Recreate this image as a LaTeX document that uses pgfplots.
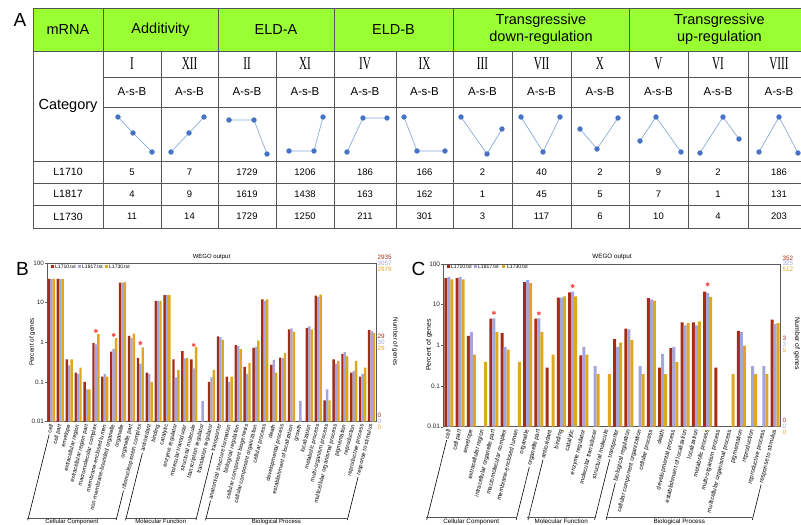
\documentclass[border=0pt]{standalone}
\usepackage{fontspec}
\setmainfont{Liberation Sans}
\newfontfamily\romanfont[FakeStretch=0.62]{Liberation Serif}
\usepackage{pgfplots}
\pgfplotsset{compat=1.18}

\definecolor{hdrgreen}{RGB}{153,255,51}
\definecolor{tline}{RGB}{85,85,85}
\definecolor{redc}{RGB}{166,44,20}
\definecolor{bluec}{RGB}{165,165,222}
\definecolor{goldc}{RGB}{222,168,30}
\definecolor{ptline}{RGB}{140,172,222}
\definecolor{ptmark}{RGB}{68,114,196}
\definecolor{starc}{RGB}{255,80,80}
\definecolor{axc}{RGB}{90,90,90}

\newcommand{\lrB}[1]{\hbox to 98.45pt{\leaders\hrule height 1.9pt depth -1.3pt\hfill\hspace{1.5pt}#1}}
\newcommand{\lrC}[1]{\hbox to 92.8pt{\leaders\hrule height 1.9pt depth -1.3pt\hfill\hspace{1.5pt}#1}}

\begin{document}
\begin{tikzpicture}
\useasboundingbox (0,0) rectangle (801pt,525pt);

% ---------------- Panel A : table ----------------
\begin{scope}[x=1pt,y=1pt]
\clip (0,0) rectangle (801,525);
\fill[hdrgreen] (33,474) rectangle (810,517);
\begin{scope}[draw=tline, line width=0.8pt]
\draw (33,517) -- (810,517);
\draw (33,474) -- (810,474);
\draw (103,448) -- (810,448);
\draw (103,418) -- (810,418);
\draw (33,364) -- (810,364);
\draw (33,342) -- (810,342);
\draw (33,320) -- (810,320);
\draw (33,297) -- (810,297);
\foreach \x in {33,103,218,334,453,629,810} \draw (\x,297) -- (\x,517);
\foreach \x in {161,276,396,512,571,688,748} \draw (\x,297) -- (\x,474);
\end{scope}
\begin{scope}[font=\fontsize{14.5}{17}\selectfont]
\node at (68,495.5) {mRNA};
\node at (160.5,495.5) {Additivity};
\node at (276,495.5) {ELD-A};
\node at (393.5,495.5) {ELD-B};
\node[align=center] at (541,495.5) {Transgressive\\down-regulation};
\node[align=center] at (719.5,495.5) {Transgressive\\up-regulation};
\node at (68,419) {Category};
\end{scope}
\begin{scope}[font=\romanfont\fontsize{18}{18}\selectfont]
\node at (132,461) {I};
\node at (189.5,461) {XII};
\node at (247,461) {II};
\node at (305,461) {XI};
\node at (365,461) {IV};
\node at (424.5,461) {IX};
\node at (482.5,461) {III};
\node at (541.5,461) {VII};
\node at (600,461) {X};
\node at (658.5,461) {V};
\node at (718,461) {VI};
\node at (779,461) {VIII};
\end{scope}
\foreach \x in {132,189.5,247,305,365,424.5,482.5,541.5,600,658.5,718,779}
  \node[font=\fontsize{11.5}{12}\selectfont] at (\x,433) {A-s-B};
\begin{scope}[font=\fontsize{10.5}{11}\selectfont]
\node at (68,353) {L1710};
\node at (68,331) {L1817};
\node at (68,308.5) {L1730};
\end{scope}
\begin{scope}[font=\fontsize{9.5}{10}\selectfont]
\foreach \x/\a/\b/\c in {132/5/4/11, 189.5/7/9/14, 247/1729/1619/1729, 305/1206/1438/1250,
  365/186/163/211, 424.5/166/162/301, 482.5/2/1/3, 541.5/40/45/117, 600/2/5/6,
  658.5/9/7/10, 718/2/1/4, 779/186/131/203}{
  \node at (\x,353) {\a};
  \node at (\x,331) {\b};
  \node at (\x,308.5) {\c};
}
\end{scope}
\end{scope}

% pattern mini-plots
\begin{axis}[at={(33pt,364pt)}, anchor=south west, scale only axis,
  width=777pt, height=54pt, hide axis, xmin=33, xmax=810, ymin=107, ymax=161,
  y dir=reverse, clip=false]
\addplot[color=ptline, line width=0.7pt, mark=*, mark size=2.3pt, mark options={fill=ptmark, draw=ptmark}] coordinates {(118,117) (133,133) (152,152)};
\addplot[color=ptline, line width=0.7pt, mark=*, mark size=2.3pt, mark options={fill=ptmark, draw=ptmark}] coordinates {(171,152) (189,133) (204,117)};
\addplot[color=ptline, line width=0.7pt, mark=*, mark size=2.3pt, mark options={fill=ptmark, draw=ptmark}] coordinates {(229,120) (254,120) (267,154)};
\addplot[color=ptline, line width=0.7pt, mark=*, mark size=2.3pt, mark options={fill=ptmark, draw=ptmark}] coordinates {(289,151) (314,151) (323,117)};
\addplot[color=ptline, line width=0.7pt, mark=*, mark size=2.3pt, mark options={fill=ptmark, draw=ptmark}] coordinates {(347,152) (363,118) (387,118)};
\addplot[color=ptline, line width=0.7pt, mark=*, mark size=2.3pt, mark options={fill=ptmark, draw=ptmark}] coordinates {(404,117) (417,151) (445,151)};
\addplot[color=ptline, line width=0.7pt, mark=*, mark size=2.3pt, mark options={fill=ptmark, draw=ptmark}] coordinates {(461,117) (487,154) (502,129)};
\addplot[color=ptline, line width=0.7pt, mark=*, mark size=2.3pt, mark options={fill=ptmark, draw=ptmark}] coordinates {(521,117) (543,152) (560,117)};
\addplot[color=ptline, line width=0.7pt, mark=*, mark size=2.3pt, mark options={fill=ptmark, draw=ptmark}] coordinates {(580,129) (597,149) (618,118)};
\addplot[color=ptline, line width=0.7pt, mark=*, mark size=2.3pt, mark options={fill=ptmark, draw=ptmark}] coordinates {(640,141) (656,117) (681,152)};
\addplot[color=ptline, line width=0.7pt, mark=*, mark size=2.3pt, mark options={fill=ptmark, draw=ptmark}] coordinates {(700,153) (723,117) (739,139)};
\addplot[color=ptline, line width=0.7pt, mark=*, mark size=2.3pt, mark options={fill=ptmark, draw=ptmark}] coordinates {(759,152) (779,117) (798,153)};
\end{axis}

% ---------------- Panel B ----------------
\begin{axis}[
  at={(47pt,103.5pt)}, anchor=south west, scale only axis, width=329pt, height=158.5pt,
  clip=false,
  ymode=log, log origin=infty, ymin=0.01, ymax=100,
  ytick={0.01,0.1,1,10,100}, yticklabels={0.01,0.1,1,10,100},
  yminorticks=false, ytick pos=left, tick align=outside, major tick length=2pt,
  xtick style={draw=none},
  axis line style={draw=axc, line width=0.5pt},
  ytick style={draw=axc, line width=0.4pt},
  yticklabel style={font=\fontsize{6.3}{6.3}\selectfont, inner sep=1pt, text=black!85},
  xmin=0, xmax=37,
  xtick={0.5,1.5,...,36.5},
  xticklabels={\lrB{cell},cell part,envelope,extracellular region,extracellular region part,macromolecular complex,membrane-enclosed lumen,non-membrane-bounded organelle,organelle,organelle part,\lrB{ribonucleoprotein complex},\lrB{antioxidant},binding,catalytic,enzyme regulator,molecular transducer,structural molecule,transcription regulator,translation regulator,\lrB{transporter},\lrB{anatomical structure formation},biological regulation,cellular component biogenesis,cellular component organization,cellular process,death,developmental process,establishment of localization,growth,localization,metabolic process,multi-organism process,multicellular organismal process,pigmentation,reproduction,reproductive process,\lrB{response to stimulus}},
  xticklabel style={rotate=76, anchor=east, inner sep=1pt, font=\fontsize{5.7}{5.7}\selectfont},
]
\addplot[ybar, bar width=0.27, bar shift=-0.27, fill=redc, draw=none] coordinates {(0.5,40) (1.5,40) (2.5,0.37) (3.5,0.17) (4.5,0.10) (5.5,0.95) (6.5,0.135) (7.5,0.58) (8.5,32) (9.5,1.45) (10.5,0.40) (11.5,0.17) (12.5,11) (13.5,15.5) (14.5,0.37) (15.5,0.60) (16.5,0.37) (18.5,0.10) (19.5,1.4) (20.5,0.135) (21.5,0.85) (22.5,0.24) (23.5,0.72) (24.5,12) (25.5,0.27) (26.5,0.41) (27.5,2.1) (29.5,2.3) (30.5,15) (31.5,0.034) (32.5,0.37) (33.5,0.51) (34.5,0.17) (35.5,0.135) (36.5,2.05)};
\addplot[ybar, bar width=0.27, bar shift=0, fill=bluec, draw=none] coordinates {(0.5,40) (1.5,40) (2.5,0.26) (3.5,0.16) (4.5,0.065) (5.5,0.88) (6.5,0.16) (7.5,0.68) (8.5,32) (9.5,1.28) (10.5,0.29) (11.5,0.16) (12.5,11) (13.5,15.5) (14.5,0.13) (15.5,0.39) (16.5,0.22) (17.5,0.033) (18.5,0.13) (19.5,1.35) (20.5,0.10) (21.5,0.80) (22.5,0.16) (23.5,0.76) (24.5,11) (25.5,0.36) (26.5,0.40) (27.5,2.25) (28.5,0.033) (29.5,2.5) (30.5,14) (31.5,0.065) (32.5,0.29) (33.5,0.56) (34.5,0.19) (35.5,0.16) (36.5,1.9)};
\addplot[ybar, bar width=0.27, bar shift=0.27, fill=goldc, draw=none] coordinates {(0.5,40) (1.5,40) (2.5,0.37) (3.5,0.23) (4.5,0.065) (5.5,1.6) (6.5,0.135) (7.5,1.28) (8.5,33) (9.5,1.65) (10.5,0.74) (11.5,0.10) (12.5,11) (13.5,15.5) (14.5,0.20) (15.5,0.40) (16.5,0.77) (18.5,0.20) (19.5,1.15) (20.5,0.135) (21.5,0.67) (22.5,0.30) (23.5,1.1) (24.5,12) (25.5,0.17) (26.5,0.54) (27.5,1.85) (29.5,2.1) (30.5,16) (31.5,0.034) (32.5,0.34) (33.5,0.44) (34.5,0.34) (35.5,0.23) (36.5,1.7)};
\addplot[only marks, mark=asterisk, mark size=2pt, color=starc, line width=0.9pt] coordinates {(5.5,1.93) (7.5,1.53) (10.5,0.944) (16.5,0.855)};
\draw[tline, line width=0.6pt] ([shift={(-24.06pt,-96.5pt)}]axis cs:0.5,0.01) -- ([shift={(-24.06pt,-96.5pt)}]axis cs:10.5,0.01);
\draw[tline, line width=0.6pt] ([shift={(-24.06pt,-96.5pt)}]axis cs:11.5,0.01) -- ([shift={(-24.06pt,-96.5pt)}]axis cs:19.5,0.01);
\draw[tline, line width=0.6pt] ([shift={(-24.06pt,-96.5pt)}]axis cs:20.5,0.01) -- ([shift={(-24.06pt,-96.5pt)}]axis cs:36.5,0.01);
\node[anchor=north, inner sep=1pt, font=\fontsize{6}{6}\selectfont] at ([shift={(-24.06pt,-96.5pt)}]axis cs:5.5,0.01) {Cellular Component};
\node[anchor=north, inner sep=1pt, font=\fontsize{6}{6}\selectfont] at ([shift={(-24.06pt,-96.5pt)}]axis cs:15.5,0.01) {Molecular Function};
\node[anchor=north, inner sep=1pt, font=\fontsize{6}{6}\selectfont] at ([shift={(-24.06pt,-96.5pt)}]axis cs:28.5,0.01) {Biological Process};
\end{axis}

% ---------------- Panel C ----------------
\begin{axis}[
  at={(443.3pt,98.3pt)}, anchor=south west, scale only axis, width=337.4pt, height=162.7pt,
  clip=false,
  ymode=log, log origin=infty, ymin=0.01, ymax=100,
  ytick={0.01,0.1,1,10,100}, yticklabels={0.01,0.1,1,10,100},
  yminorticks=false, ytick pos=left, tick align=outside, major tick length=2pt,
  xtick style={draw=none},
  axis line style={draw=axc, line width=0.5pt},
  ytick style={draw=axc, line width=0.4pt},
  yticklabel style={font=\fontsize{6.5}{6.5}\selectfont, inner sep=1pt, text=black!85},
  xmin=0, xmax=30,
  xtick={0.5,1.5,...,29.5},
  xticklabels={\lrC{cell},cell part,envelope,extracellular region,intracellular organelle part,macromolecular complex,membrane-enclosed lumen,organelle,\lrC{organelle part},\lrC{antioxidant},binding,catalytic,enzyme regulator,molecular transducer,structural molecule,\lrC{transporter},\lrC{biological regulation},cellular component organization,cellular process,death,developmental process,establishment of localization,localization,metabolic process,multi-organism process,multicellular organismal process,pigmentation,reproduction,reproductive process,\lrC{response to stimulus}},
  xticklabel style={rotate=76, anchor=east, inner sep=1pt, font=\fontsize{6}{6}\selectfont},
]
\addplot[ybar, bar width=0.27, bar shift=-0.27, fill=redc, draw=none] coordinates {(0.5,45) (1.5,45) (2.5,1.70) (4.5,4.55) (5.5,1.99) (7.5,36) (8.5,4.55) (9.5,0.284) (10.5,15) (11.5,20) (12.5,0.57) (15.5,1.42) (16.5,2.56) (18.5,14.5) (19.5,0.284) (20.5,0.85) (21.5,3.69) (22.5,3.69) (23.5,21) (24.5,0.284) (26.5,2.27) (29.5,4.26)};
\addplot[ybar, bar width=0.27, bar shift=0, fill=bluec, draw=none] coordinates {(0.5,48) (1.5,48) (2.5,2.15) (4.5,4.62) (5.5,0.92) (7.5,40) (8.5,4.62) (10.5,15) (11.5,21) (12.5,0.92) (13.5,0.31) (15.5,0.92) (16.5,2.46) (17.5,0.31) (18.5,13.5) (19.5,0.62) (20.5,0.92) (21.5,3.08) (22.5,3.08) (23.5,19.5) (26.5,2.15) (27.5,0.31) (28.5,0.31) (29.5,3.38)};
\addplot[ybar, bar width=0.27, bar shift=0.27, fill=goldc, draw=none] coordinates {(0.5,42) (1.5,42) (2.5,0.59) (3.5,0.39) (4.5,2.15) (5.5,0.78) (6.5,0.39) (7.5,34) (8.5,2.15) (9.5,0.59) (10.5,16) (11.5,16) (12.5,0.59) (13.5,0.195) (14.5,0.195) (15.5,1.17) (16.5,1.37) (17.5,0.195) (18.5,12.5) (19.5,0.195) (20.5,0.39) (21.5,3.52) (22.5,3.91) (23.5,15.5) (25.5,0.195) (26.5,0.98) (27.5,0.195) (28.5,0.195) (29.5,3.52)};
\addplot[only marks, mark=asterisk, mark size=2pt, color=starc, line width=0.9pt] coordinates {(4.5,6.3) (8.5,6.1) (11.5,28.6) (23.5,31.5)};
\draw[tline, line width=0.6pt] ([shift={(-22.69pt,-91pt)}]axis cs:0.5,0.01) -- ([shift={(-22.69pt,-91pt)}]axis cs:8.5,0.01);
\draw[tline, line width=0.6pt] ([shift={(-22.69pt,-91pt)}]axis cs:9.5,0.01) -- ([shift={(-22.69pt,-91pt)}]axis cs:15.5,0.01);
\draw[tline, line width=0.6pt] ([shift={(-22.69pt,-91pt)}]axis cs:16.5,0.01) -- ([shift={(-22.69pt,-91pt)}]axis cs:29.5,0.01);
\node[anchor=north, inner sep=1pt, font=\fontsize{6.3}{6.3}\selectfont] at ([shift={(-22.69pt,-91pt)}]axis cs:4.5,0.01) {Cellular Component};
\node[anchor=north, inner sep=1pt, font=\fontsize{6.3}{6.3}\selectfont] at ([shift={(-22.69pt,-91pt)}]axis cs:12.5,0.01) {Molecular Function};
\node[anchor=north, inner sep=1pt, font=\fontsize{6.3}{6.3}\selectfont] at ([shift={(-22.69pt,-91pt)}]axis cs:23,0.01) {Biological Process};
\end{axis}

% ---------------- annotations ----------------
\begin{scope}[x=1pt,y=1pt]
\node[font=\fontsize{19}{19}\selectfont] at (20,505) {A};
\node[font=\fontsize{19}{19}\selectfont] at (22.5,256.5) {B};
\node[font=\fontsize{19}{19}\selectfont] at (418.5,256.5) {C};
\node[font=\fontsize{6}{6}\selectfont] at (211.5,268) {WEGO output};
\node[font=\fontsize{6.3}{6.3}\selectfont] at (612,268) {WEGO output};
\begin{scope}[font=\fontsize{5}{5}\selectfont]
\fill[redc] (50.5,256.5) rectangle (53.5,259.5); \node[anchor=west, inner sep=0] at (55,258) {L1710.txt};
\fill[bluec] (77.5,256.5) rectangle (80.5,259.5); \node[anchor=west, inner sep=0] at (82,258) {L1817.txt};
\fill[goldc] (104.5,256.5) rectangle (107.5,259.5); \node[anchor=west, inner sep=0] at (109,258) {L1730.txt};
\fill[redc] (446.5,256.5) rectangle (449.5,259.5); \node[anchor=west, inner sep=0] at (451,258) {L1710.txt};
\fill[bluec] (473.5,256.5) rectangle (476.5,259.5); \node[anchor=west, inner sep=0] at (478,258) {L1817.txt};
\fill[goldc] (501.5,256.5) rectangle (504.5,259.5); \node[anchor=west, inner sep=0] at (507,258) {L1730.txt};
\end{scope}
\begin{scope}[font=\fontsize{6.3}{6.3}\selectfont]
\node[anchor=west, inner sep=0, text=redc] at (377.5,268) {2935};
\node[anchor=west, inner sep=0, text=bluec] at (377.5,262) {3057};
\node[anchor=west, inner sep=0, text=goldc] at (377.5,256) {2979};
\node[anchor=west, inner sep=0, text=redc] at (377.5,189) {29};
\node[anchor=west, inner sep=0, text=bluec] at (377.5,183) {30};
\node[anchor=west, inner sep=0, text=goldc] at (377.5,177) {29};
\node[anchor=west, inner sep=0, text=redc] at (377.5,110) {0};
\node[anchor=west, inner sep=0, text=bluec] at (377.5,104) {0};
\node[anchor=west, inner sep=0, text=goldc] at (377.5,98) {0};
\node[anchor=west, inner sep=0, text=redc] at (782.5,267) {352};
\node[anchor=west, inner sep=0, text=bluec] at (782.5,261.5) {325};
\node[anchor=west, inner sep=0, text=goldc] at (782.5,256) {512};
\node[anchor=west, inner sep=0, text=redc] at (782.5,187) {3};
\node[anchor=west, inner sep=0, text=bluec] at (782.5,181) {3};
\node[anchor=west, inner sep=0, text=goldc] at (782.5,175) {5};
\node[anchor=west, inner sep=0, text=redc] at (782.5,105) {0};
\node[anchor=west, inner sep=0, text=bluec] at (782.5,99) {0};
\node[anchor=west, inner sep=0, text=goldc] at (782.5,93) {0};
\end{scope}
\node[rotate=-90, font=\fontsize{6.3}{6.3}\selectfont] at (395,183) {Number of genes};
\node[rotate=-90, font=\fontsize{6.8}{6.8}\selectfont] at (797,181) {Number of genes};
\node[rotate=90, font=\fontsize{6.3}{6.3}\selectfont] at (32.3,183) {Percent of genes};
\node[rotate=90, font=\fontsize{6.8}{6.8}\selectfont] at (429,180) {Percent of genes};
\end{scope}
\end{tikzpicture}
\end{document}
